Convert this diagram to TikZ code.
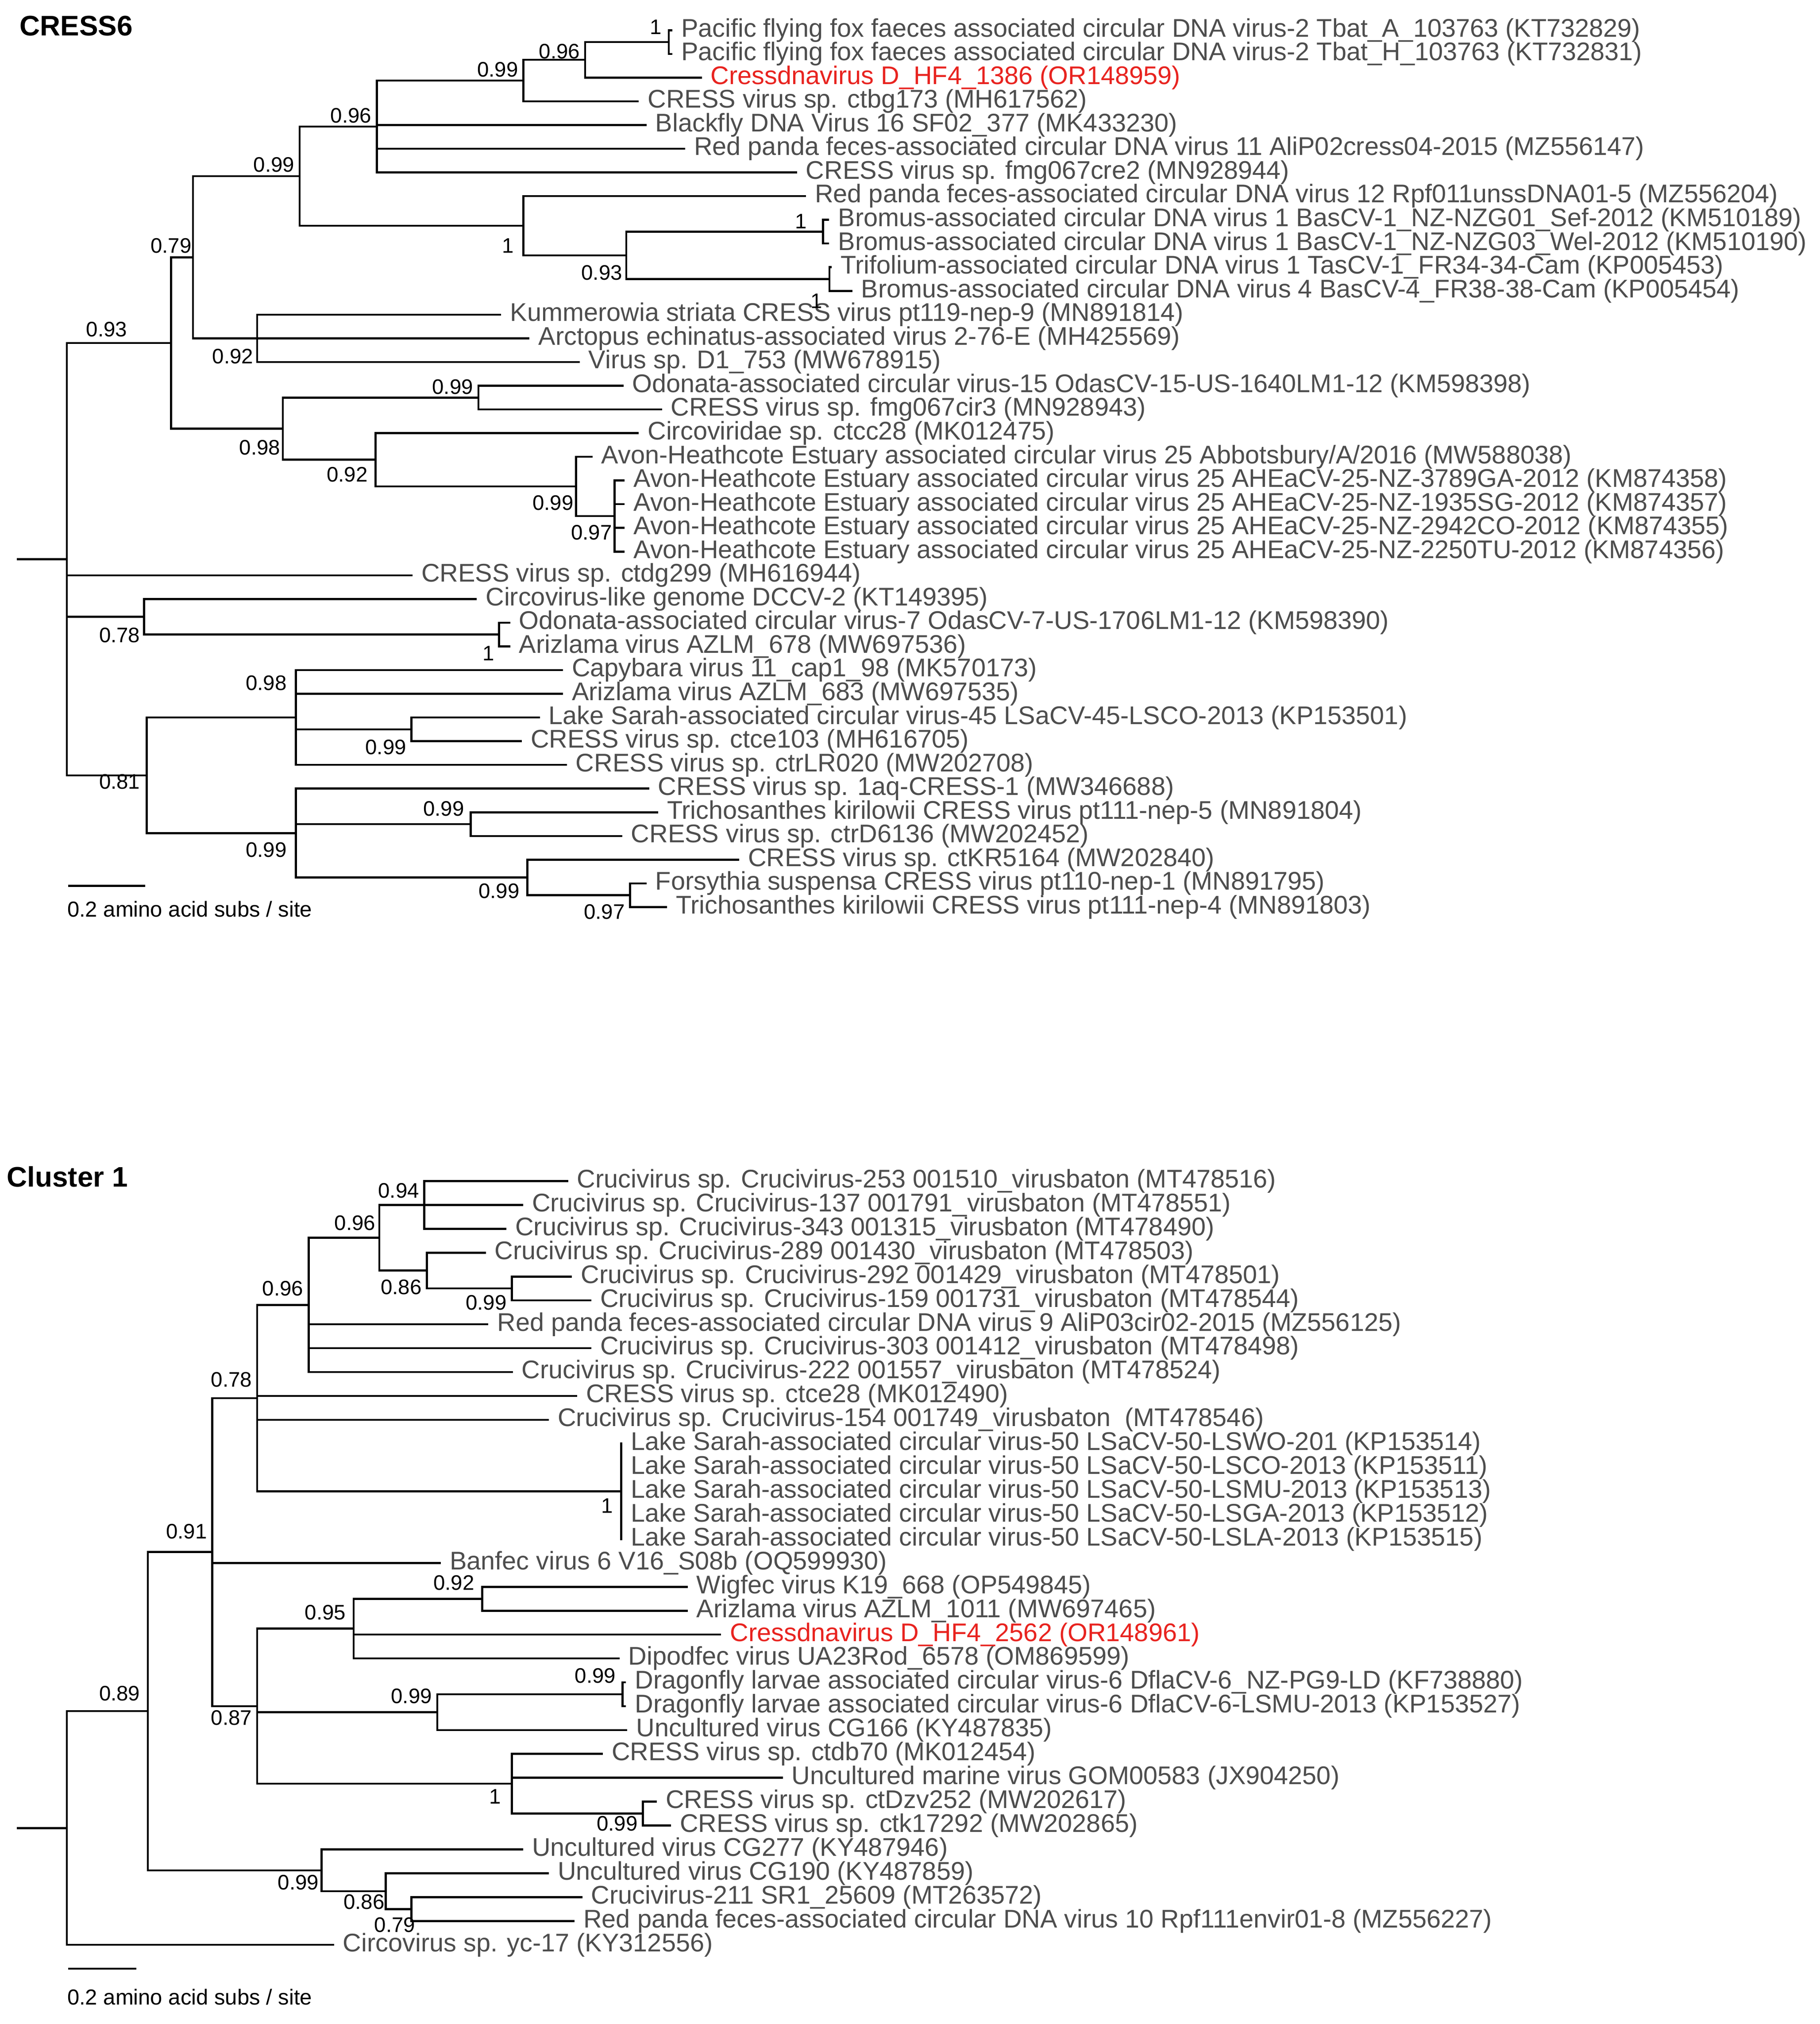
\documentclass[tikz,border=0pt]{standalone}
\usepackage{fontspec}
\setmainfont{Liberation Sans}
\definecolor{txt}{HTML}{4D4D4D}
\definecolor{hl}{HTML}{E8231F}
\newcommand\lfa[4]{\node[leaf] (#1) at (#2,{23.5+18.43*(#3-1)}) {#4};}
\newcommand\lfb[4]{\node[leaf] (#1) at (#2,{918.5+18.56*(#3-1)}) {#4};}
\newcommand\tE[2]{\draw[br] (#1 |- #2) -- (#2);}
\newcommand\tL[2]{\draw[br] (#1 |- #2.west) -- (#2.west);}
\newcommand\tV[3]{\draw[br] (#1 |- #2) -- (#1 |- #3);}
\begin{document}
\begin{tikzpicture}[x=0.02cm,y=-0.02cm,
 leaf/.style={anchor=west,inner xsep=4.2pt,inner ysep=0pt,font=\fontsize{11.3}{13}\selectfont,text=txt},
 sup/.style={inner sep=0pt,font=\fontsize{9.3}{11}\selectfont},
 br/.style={line width=0.9pt,line cap=rect},
 ttl/.style={anchor=west,inner sep=0pt,font=\bfseries\fontsize{12.5}{15}\selectfont},
 scl/.style={anchor=west,inner sep=0pt,font=\fontsize{9.6}{11}\selectfont}]
\useasboundingbox (0,0) rectangle (1415,1574);
\node[ttl] (t1) at (15,20) {CRESS6};
\node[ttl] (t2) at (5,915) {Cluster 1};
% ---------- top leaves
\lfa{a1}{522}{1}{Pacific flying fox faeces associated circular DNA virus-2 Tbat\_A\_103763 (KT732829)}
\lfa{a2}{522}{2}{Pacific flying fox faeces associated circular DNA virus-2 Tbat\_H\_103763 (KT732831)}
\lfa{a3}{545}{3}{\textcolor{hl}{Cressdnavirus D\_HF4\_1386 (OR148959)}}
\lfa{a4}{496}{4}{CRESS virus sp. ctbg173 (MH617562)}
\lfa{a5}{502}{5}{Blackfly DNA Virus 16 SF02\_377 (MK433230)}
\lfa{a6}{532}{6}{Red panda feces-associated circular DNA virus 11 AliP02cress04-2015 (MZ556147)}
\lfa{a7}{619}{7}{CRESS virus sp. fmg067cre2 (MN928944)}
\lfa{a8}{626}{8}{Red panda feces-associated circular DNA virus 12 Rpf011unssDNA01-5 (MZ556204)}
\lfa{a9}{644}{9}{Bromus-associated circular DNA virus 1 BasCV-1\_NZ-NZG01\_Sef-2012 (KM510189)}
\lfa{a10}{644}{10}{Bromus-associated circular DNA virus 1 BasCV-1\_NZ-NZG03\_Wel-2012 (KM510190)}
\lfa{a11}{646}{11}{Trifolium-associated circular DNA virus 1 TasCV-1\_FR34-34-Cam (KP005453)}
\lfa{a12}{662}{12}{Bromus-associated circular DNA virus 4 BasCV-4\_FR38-38-Cam (KP005454)}
\lfa{a13}{389}{13}{Kummerowia striata CRESS virus pt119-nep-9 (MN891814)}
\lfa{a14}{411}{14}{Arctopus echinatus-associated virus 2-76-E (MH425569)}
\lfa{a15}{450}{15}{Virus sp. D1\_753 (MW678915)}
\lfa{a16}{484}{16}{Odonata-associated circular virus-15 OdasCV-15-US-1640LM1-12 (KM598398)}
\lfa{a17}{514}{17}{CRESS virus sp. fmg067cir3 (MN928943)}
\lfa{a18}{496}{18}{Circoviridae sp. ctcc28 (MK012475)}
\lfa{a19}{460}{19}{Avon-Heathcote Estuary associated circular virus 25 Abbotsbury/A/2016 (MW588038)}
\lfa{a20}{485}{20}{Avon-Heathcote Estuary associated circular virus 25 AHEaCV-25-NZ-3789GA-2012 (KM874358)}
\lfa{a21}{485}{21}{Avon-Heathcote Estuary associated circular virus 25 AHEaCV-25-NZ-1935SG-2012 (KM874357)}
\lfa{a22}{485}{22}{Avon-Heathcote Estuary associated circular virus 25 AHEaCV-25-NZ-2942CO-2012 (KM874355)}
\lfa{a23}{485}{23}{Avon-Heathcote Estuary associated circular virus 25 AHEaCV-25-NZ-2250TU-2012 (KM874356)}
\lfa{a24}{320}{24}{CRESS virus sp. ctdg299 (MH616944)}
\lfa{a25}{370}{25}{Circovirus-like genome DCCV-2 (KT149395)}
\lfa{a26}{396}{26}{Odonata-associated circular virus-7 OdasCV-7-US-1706LM1-12 (KM598390)}
\lfa{a27}{396}{27}{Arizlama virus AZLM\_678 (MW697536)}
\lfa{a28}{437}{28}{Capybara virus 11\_cap1\_98 (MK570173)}
\lfa{a29}{437}{29}{Arizlama virus AZLM\_683 (MW697535)}
\lfa{a30}{419}{30}{Lake Sarah-associated circular virus-45 LSaCV-45-LSCO-2013 (KP153501)}
\lfa{a31}{405}{31}{CRESS virus sp. ctce103 (MH616705)}
\lfa{a32}{440}{32}{CRESS virus sp. ctrLR020 (MW202708)}
\lfa{a33}{504}{33}{CRESS virus sp. 1aq-CRESS-1 (MW346688)}
\lfa{a34}{511}{34}{Trichosanthes kirilowii CRESS virus pt111-nep-5 (MN891804)}
\lfa{a35}{483}{35}{CRESS virus sp. ctrD6136 (MW202452)}
\lfa{a36}{574}{36}{CRESS virus sp. ctKR5164 (MW202840)}
\lfa{a37}{502}{37}{Forsythia suspensa CRESS virus pt110-nep-1 (MN891795)}
\lfa{a38}{518}{38}{Trichosanthes kirilowii CRESS virus pt111-nep-4 (MN891803)}
% ---------- top internal nodes
\coordinate (p1) at (520,32.7);
\coordinate (n96b) at (455,46.5);
\coordinate (n99b) at (407,62.7);
\coordinate (n96) at (293,98.5);
\coordinate (pbr) at (640,180.2);
\coordinate (ptr) at (645,217.0);
\coordinate (n93b) at (487,198.6);
\coordinate (n1a) at (407,175.5);
\coordinate (n99a) at (233,137.0);
\coordinate (n92) at (200,263.1);
\coordinate (n79) at (150,200.1);
\coordinate (n99c) at (372,309.2);
\coordinate (n97) at (478,401.3);
\coordinate (n99d) at (448,378.3);
\coordinate (n92b) at (292,357.5);
\coordinate (n98) at (220,333.4);
\coordinate (n93) at (133,266.7);
\coordinate (p1b) at (388,493.5);
\coordinate (n78) at (112,479.7);
\coordinate (n99f) at (320,567.2);
\coordinate (n98b) at (230,558.0);
\coordinate (n99g) at (366,640.9);
\coordinate (n97b) at (490,696.2);
\coordinate (n99h) at (410,682.4);
\coordinate (n99e) at (230,647.9);
\coordinate (n81) at (114,603.0);
\coordinate (r1) at (52,434.9);
\coordinate (s1) at (14,434.9);
\draw[br] (s1) -- (r1);
\tV{r1}{n93}{n81}
\tE{r1}{n93}\tL{r1}{a24}\tE{r1}{n78}\tE{r1}{n81}
\tV{n93}{n79}{n98}\tE{n93}{n79}\tE{n93}{n98}
\tV{n79}{n99a}{n92}\tE{n79}{n99a}\tE{n79}{n92}
\tV{n99a}{n96}{n1a}\tE{n99a}{n96}\tE{n99a}{n1a}
\tV{n96}{n99b}{a7}\tE{n96}{n99b}\tL{n96}{a5}\tL{n96}{a6}\tL{n96}{a7}
\tV{n99b}{n96b}{a4}\tE{n99b}{n96b}\tL{n99b}{a4}
\tV{n96b}{p1}{a3}\tE{n96b}{p1}\tL{n96b}{a3}
\tV{p1}{a1}{a2}\tL{p1}{a1}\tL{p1}{a2}
\tV{n1a}{a8}{n93b}\tL{n1a}{a8}\tE{n1a}{n93b}
\tV{n93b}{pbr}{ptr}\tE{n93b}{pbr}\tE{n93b}{ptr}
\tV{pbr}{a9}{a10}\tL{pbr}{a9}\tL{pbr}{a10}
\tV{ptr}{a11}{a12}\tL{ptr}{a11}\tL{ptr}{a12}
\tV{n92}{a13}{a15}\tL{n92}{a13}\tL{n92}{a14}\tL{n92}{a15}
\tV{n98}{n99c}{n92b}\tE{n98}{n99c}\tE{n98}{n92b}
\tV{n99c}{a16}{a17}\tL{n99c}{a16}\tL{n99c}{a17}
\tV{n92b}{a18}{n99d}\tL{n92b}{a18}\tE{n92b}{n99d}
\tV{n99d}{a19}{n97}\tL{n99d}{a19}\tE{n99d}{n97}
\tV{n97}{a20}{a23}\tL{n97}{a20}\tL{n97}{a21}\tL{n97}{a22}\tL{n97}{a23}
\tV{n78}{a25}{p1b}\tL{n78}{a25}\tE{n78}{p1b}
\tV{p1b}{a26}{a27}\tL{p1b}{a26}\tL{p1b}{a27}
\tV{n81}{n98b}{n99e}\tE{n81}{n98b}\tE{n81}{n99e}
\tV{n98b}{a28}{a32}\tL{n98b}{a28}\tL{n98b}{a29}\tE{n98b}{n99f}\tL{n98b}{a32}
\tV{n99f}{a30}{a31}\tL{n99f}{a30}\tL{n99f}{a31}
\tV{n99e}{a33}{n99h}\tL{n99e}{a33}\tE{n99e}{n99g}\tE{n99e}{n99h}
\tV{n99g}{a34}{a35}\tL{n99g}{a34}\tL{n99g}{a35}
\tV{n99h}{a36}{n97b}\tL{n99h}{a36}\tE{n99h}{n97b}
\tV{n97b}{a37}{a38}\tL{n97b}{a37}\tL{n97b}{a38}
% top support
\node[sup] (sa1) at (510,21) {1};
\node[sup] (sa2) at (387,54) {0.99};
\node[sup] (sa3) at (435,40) {0.96};
\node[sup] (sa4) at (273,90) {0.96};
\node[sup] (sa5) at (213,128) {0.99};
\node[sup] (sa6) at (395,191) {1};
\node[sup] (sa7) at (468,212) {0.93};
\node[sup] (sa8) at (623,172) {1};
\node[sup] (sa9) at (635,234) {1};
\node[sup] (sa10) at (133,191) {0.79};
\node[sup] (sa11) at (83,256) {0.93};
\node[sup] (sa12) at (181,277) {0.92};
\node[sup] (sa13) at (352,301) {0.99};
\node[sup] (sa14) at (202,348) {0.98};
\node[sup] (sa15) at (270,369) {0.92};
\node[sup] (sa16) at (430,391) {0.99};
\node[sup] (sa17) at (460,414) {0.97};
\node[sup] (sa18) at (93,494) {0.78};
\node[sup] (sa19) at (380,508) {1};
\node[sup] (sa20) at (207,531) {0.98};
\node[sup] (sa21) at (300,581) {0.99};
\node[sup] (sa22) at (93,608) {0.81};
\node[sup] (sa23) at (345,629) {0.99};
\node[sup] (sa24) at (207,661) {0.99};
\node[sup] (sa25) at (388,693) {0.99};
\node[sup] (sa26) at (470,709) {0.97};
\coordinate (sb1) at (53,689);\coordinate (sb2) at (113,689);
\draw[br,line cap=butt] (sb1) -- (sb2);
\node[scl] (sbt1) at (52,707) {0.2 amino acid subs / site};
% ---------- bottom leaves
\lfb{b1}{441}{1}{Crucivirus sp. Crucivirus-253 001510\_virusbaton (MT478516)}
\lfb{b2}{406}{2}{Crucivirus sp. Crucivirus-137 001791\_virusbaton (MT478551)}
\lfb{b3}{393}{3}{Crucivirus sp. Crucivirus-343 001315\_virusbaton (MT478490)}
\lfb{b4}{377}{4}{Crucivirus sp. Crucivirus-289 001430\_virusbaton (MT478503)}
\lfb{b5}{444}{5}{Crucivirus sp. Crucivirus-292 001429\_virusbaton (MT478501)}
\lfb{b6}{459}{6}{Crucivirus sp. Crucivirus-159 001731\_virusbaton (MT478544)}
\lfb{b7}{379}{7}{Red panda feces-associated circular DNA virus 9 AliP03cir02-2015 (MZ556125)}
\lfb{b8}{459}{8}{Crucivirus sp. Crucivirus-303 001412\_virusbaton (MT478498)}
\lfb{b9}{398}{9}{Crucivirus sp. Crucivirus-222 001557\_virusbaton (MT478524)}
\lfb{b10}{448}{10}{CRESS virus sp. ctce28 (MK012490)}
\lfb{b11}{426}{11}{Crucivirus sp. Crucivirus-154 001749\_virusbaton\ \ (MT478546)}
\lfb{b12}{483}{12}{Lake Sarah-associated circular virus-50 LSaCV-50-LSWO-201 (KP153514)}
\lfb{b13}{483}{13}{Lake Sarah-associated circular virus-50 LSaCV-50-LSCO-2013 (KP153511)}
\lfb{b14}{483}{14}{Lake Sarah-associated circular virus-50 LSaCV-50-LSMU-2013 (KP153513)}
\lfb{b15}{483}{15}{Lake Sarah-associated circular virus-50 LSaCV-50-LSGA-2013 (KP153512)}
\lfb{b16}{483}{16}{Lake Sarah-associated circular virus-50 LSaCV-50-LSLA-2013 (KP153515)}
\lfb{b17}{342}{17}{Banfec virus 6 V16\_S08b (OQ599930)}
\lfb{b18}{534}{18}{Wigfec virus K19\_668 (OP549845)}
\lfb{b19}{534}{19}{Arizlama virus AZLM\_1011 (MW697465)}
\lfb{b20}{560}{20}{\textcolor{hl}{Cressdnavirus D\_HF4\_2562 (OR148961)}}
\lfb{b21}{481}{21}{Dipodfec virus UA23Rod\_6578 (OM869599)}
\lfb{b22}{486}{22}{Dragonfly larvae associated circular virus-6 DflaCV-6\_NZ-PG9-LD (KF738880)}
\lfb{b23}{486}{23}{Dragonfly larvae associated circular virus-6 DflaCV-6-LSMU-2013 (KP153527)}
\lfb{b24}{487}{24}{Uncultured virus CG166 (KY487835)}
\lfb{b25}{468}{25}{CRESS virus sp. ctdb70 (MK012454)}
\lfb{b26}{608}{26}{Uncultured marine virus GOM00583 (JX904250)}
\lfb{b27}{510}{27}{CRESS virus sp. ctDzv252 (MW202617)}
\lfb{b28}{521}{28}{CRESS virus sp. ctk17292 (MW202865)}
\lfb{b29}{406}{29}{Uncultured virus CG277 (KY487946)}
\lfb{b30}{426}{30}{Uncultured virus CG190 (KY487859)}
\lfb{b31}{452}{31}{Crucivirus-211 SR1\_25609 (MT263572)}
\lfb{b32}{446}{32}{Red panda feces-associated circular DNA virus 10 Rpf111envir01-8 (MZ556227)}
\lfb{b33}{259}{33}{Circovirus sp. yc-17 (KY312556)}
% ---------- bottom internal nodes
\coordinate (m94) at (330,937.1);
\coordinate (m99j) at (398,1002.0);
\coordinate (m86b) at (332,988.1);
\coordinate (m96b) at (295,962.6);
\coordinate (m96a) at (240,1014.8);
\coordinate (m1c) at (483,1159.8);
\coordinate (m78) at (200,1087.3);
\coordinate (m92) at (375,1243.3);
\coordinate (m95) at (275,1266.5);
\coordinate (m99l) at (484,1317.5);
\coordinate (m99k) at (340,1331.5);
\coordinate (m99m) at (500,1410.4);
\coordinate (m1d) at (398,1387.1);
\coordinate (m87) at (200,1326.8);
\coordinate (m91) at (165,1207.0);
\coordinate (m79) at (320,1484.6);
\coordinate (m86) at (300,1470.7);
\coordinate (m99i) at (250,1454.5);
\coordinate (m89) at (115,1330.7);
\coordinate (r2) at (52,1421.6);
\coordinate (s2) at (14,1421.6);
\draw[br] (s2) -- (r2);
\tV{r2}{m89}{b33}\tE{r2}{m89}\tL{r2}{b33}
\tV{m89}{m91}{m99i}\tE{m89}{m91}\tE{m89}{m99i}
\tV{m91}{m78}{m87}\tE{m91}{m78}\tL{m91}{b17}\tE{m91}{m87}
\tV{m78}{m96a}{m1c}\tE{m78}{m96a}\tL{m78}{b10}\tL{m78}{b11}\tE{m78}{m1c}
\tV{m96a}{m96b}{b9}\tE{m96a}{m96b}\tL{m96a}{b7}\tL{m96a}{b8}\tL{m96a}{b9}
\tV{m96b}{m94}{m86b}\tE{m96b}{m94}\tE{m96b}{m86b}
\tV{m94}{b1}{b3}\tL{m94}{b1}\tL{m94}{b2}\tL{m94}{b3}
\tV{m86b}{b4}{m99j}\tL{m86b}{b4}\tE{m86b}{m99j}
\tV{m99j}{b5}{b6}\tL{m99j}{b5}\tL{m99j}{b6}
\tV{m1c}{b12}{b16}\tL{m1c}{b12}\tL{m1c}{b13}\tL{m1c}{b14}\tL{m1c}{b15}\tL{m1c}{b16}
\tV{m87}{m95}{m1d}\tE{m87}{m95}\tE{m87}{m99k}\tE{m87}{m1d}
\tV{m95}{m92}{b21}\tE{m95}{m92}\tL{m95}{b20}\tL{m95}{b21}
\tV{m92}{b18}{b19}\tL{m92}{b18}\tL{m92}{b19}
\tV{m99k}{m99l}{b24}\tE{m99k}{m99l}\tL{m99k}{b24}
\tV{m99l}{b22}{b23}\tL{m99l}{b22}\tL{m99l}{b23}
\tV{m1d}{b25}{m99m}\tL{m1d}{b25}\tL{m1d}{b26}\tE{m1d}{m99m}
\tV{m99m}{b27}{b28}\tL{m99m}{b27}\tL{m99m}{b28}
\tV{m99i}{b29}{m86}\tL{m99i}{b29}\tE{m99i}{m86}
\tV{m86}{b30}{m79}\tL{m86}{b30}\tE{m86}{m79}
\tV{m79}{b31}{b32}\tL{m79}{b31}\tL{m79}{b32}
% bottom support
\node[sup] (sb_1) at (310,926) {0.94};
\node[sup] (sb_2) at (276,951) {0.96};
\node[sup] (sb_3) at (220,1002) {0.96};
\node[sup] (sb_4) at (312,1001) {0.86};
\node[sup] (sb_5) at (378,1013) {0.99};
\node[sup] (sb_6) at (180,1073) {0.78};
\node[sup] (sb_7) at (472,1171) {1};
\node[sup] (sb_8) at (145,1191) {0.91};
\node[sup] (sb_9) at (353,1231) {0.92};
\node[sup] (sb_10) at (253,1254) {0.95};
\node[sup] (sb_11) at (463,1303) {0.99};
\node[sup] (sb_12) at (320,1319) {0.99};
\node[sup] (sb_13) at (93,1317) {0.89};
\node[sup] (sb_14) at (180,1336) {0.87};
\node[sup] (sb_15) at (385,1397) {1};
\node[sup] (sb_16) at (480,1418) {0.99};
\node[sup] (sb_17) at (232,1464) {0.99};
\node[sup] (sb_18) at (283,1479) {0.86};
\node[sup] (sb_19) at (307,1497) {0.79};
\coordinate (sc1) at (53,1531);\coordinate (sc2) at (106,1531);
\draw[br,line cap=butt] (sc1) -- (sc2);
\node[scl] (sbt2) at (52,1553) {0.2 amino acid subs / site};
\end{tikzpicture}
\end{document}
